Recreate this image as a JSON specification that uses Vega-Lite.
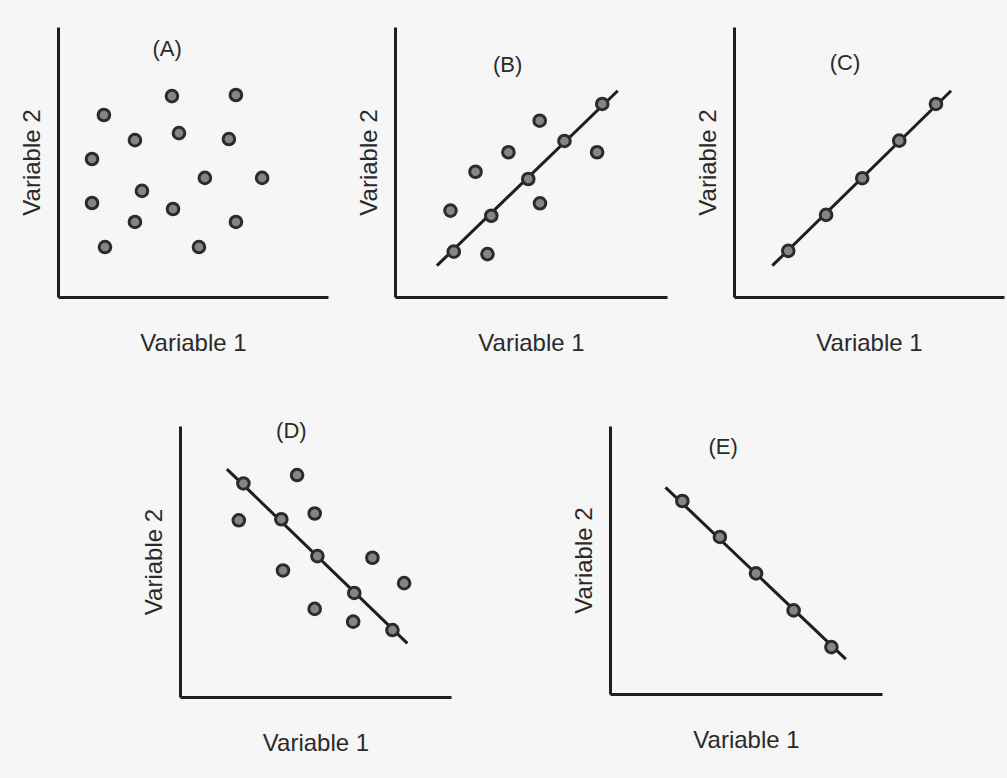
{
  "$schema": "https://vega.github.io/schema/vega-lite/v6.json",
  "background": "#f6f6f6",
  "padding": {"left": 20, "top": 27, "right": 6, "bottom": 26},
  "config": {
    "view": {"stroke": null},
    "font": "Liberation Sans",
    "axis": {
      "domainColor": "#1e1e1e",
      "domainWidth": 3,
      "ticks": false,
      "labels": false,
      "grid": false,
      "titleFont": "Liberation Sans",
      "titleFontSize": 24,
      "titleFontWeight": "normal",
      "titleColor": "#2a2a2a"
    },
    "axisX": {"titlePadding": 34},
    "axisY": {"titlePadding": 14}
  },
  "datasets": {
    "pts": [
      {"panel": "A", "kind": "dot", "x": 42.2, "y": 74.4},
      {"panel": "A", "kind": "dot", "x": 65.9, "y": 74.8},
      {"panel": "A", "kind": "dot", "x": 17.0, "y": 67.4},
      {"panel": "A", "kind": "dot", "x": 28.5, "y": 58.1},
      {"panel": "A", "kind": "dot", "x": 44.8, "y": 60.7},
      {"panel": "A", "kind": "dot", "x": 63.3, "y": 58.5},
      {"panel": "A", "kind": "dot", "x": 12.6, "y": 51.1},
      {"panel": "A", "kind": "dot", "x": 54.4, "y": 44.1},
      {"panel": "A", "kind": "dot", "x": 75.6, "y": 44.1},
      {"panel": "A", "kind": "dot", "x": 31.1, "y": 39.3},
      {"panel": "A", "kind": "dot", "x": 12.6, "y": 34.8},
      {"panel": "A", "kind": "dot", "x": 42.6, "y": 32.6},
      {"panel": "A", "kind": "dot", "x": 28.5, "y": 27.8},
      {"panel": "A", "kind": "dot", "x": 65.9, "y": 27.8},
      {"panel": "A", "kind": "dot", "x": 17.4, "y": 18.5},
      {"panel": "A", "kind": "dot", "x": 52.2, "y": 18.5},

      {"panel": "B", "kind": "dot", "x": 21.6, "y": 16.8},
      {"panel": "B", "kind": "dot", "x": 35.4, "y": 30.1},
      {"panel": "B", "kind": "dot", "x": 49.0, "y": 43.7},
      {"panel": "B", "kind": "dot", "x": 62.3, "y": 57.8},
      {"panel": "B", "kind": "dot", "x": 76.2, "y": 71.5},
      {"panel": "B", "kind": "dot", "x": 20.4, "y": 32.0},
      {"panel": "B", "kind": "dot", "x": 34.0, "y": 15.9},
      {"panel": "B", "kind": "dot", "x": 29.6, "y": 46.4},
      {"panel": "B", "kind": "dot", "x": 41.7, "y": 53.6},
      {"panel": "B", "kind": "dot", "x": 53.2, "y": 65.3},
      {"panel": "B", "kind": "dot", "x": 53.3, "y": 34.7},
      {"panel": "B", "kind": "dot", "x": 74.3, "y": 53.6},

      {"panel": "C", "kind": "dot", "x": 20.1, "y": 17.1},
      {"panel": "C", "kind": "dot", "x": 34.1, "y": 30.4},
      {"panel": "C", "kind": "dot", "x": 47.5, "y": 44.0},
      {"panel": "C", "kind": "dot", "x": 61.2, "y": 57.9},
      {"panel": "C", "kind": "dot", "x": 74.8, "y": 71.5},

      {"panel": "D", "kind": "dot", "x": 23.4, "y": 78.8},
      {"panel": "D", "kind": "dot", "x": 37.4, "y": 65.6},
      {"panel": "D", "kind": "dot", "x": 50.7, "y": 52.0},
      {"panel": "D", "kind": "dot", "x": 64.3, "y": 38.4},
      {"panel": "D", "kind": "dot", "x": 78.4, "y": 24.7},
      {"panel": "D", "kind": "dot", "x": 43.2, "y": 81.9},
      {"panel": "D", "kind": "dot", "x": 21.7, "y": 65.2},
      {"panel": "D", "kind": "dot", "x": 49.7, "y": 67.7},
      {"panel": "D", "kind": "dot", "x": 38.0, "y": 46.7},
      {"panel": "D", "kind": "dot", "x": 71.0, "y": 51.4},
      {"panel": "D", "kind": "dot", "x": 82.7, "y": 42.0},
      {"panel": "D", "kind": "dot", "x": 49.7, "y": 32.5},
      {"panel": "D", "kind": "dot", "x": 63.9, "y": 27.8},

      {"panel": "E", "kind": "dot", "x": 26.6, "y": 72.0},
      {"panel": "E", "kind": "dot", "x": 40.4, "y": 58.6},
      {"panel": "E", "kind": "dot", "x": 53.7, "y": 45.0},
      {"panel": "E", "kind": "dot", "x": 67.5, "y": 31.2},
      {"panel": "E", "kind": "dot", "x": 81.4, "y": 17.5}
    ],
    "lines": [
      {"panel": "B", "x": 15.4, "y": 11.6},
      {"panel": "B", "x": 81.9, "y": 76.4},
      {"panel": "C", "x": 14.2, "y": 11.6},
      {"panel": "C", "x": 80.4, "y": 76.4},
      {"panel": "D", "x": 17.3, "y": 84.1},
      {"panel": "D", "x": 83.9, "y": 19.8},
      {"panel": "E", "x": 20.4, "y": 77.1},
      {"panel": "E", "x": 86.7, "y": 13.0}
    ],
    "labels": [
      {"panel": "A", "text": "(A)", "x": 40.4, "y": 91.9},
      {"panel": "B", "text": "(B)", "x": 41.4, "y": 85.9},
      {"panel": "C", "text": "(C)", "x": 41.1, "y": 86.6},
      {"panel": "D", "text": "(D)", "x": 41.1, "y": 98.0},
      {"panel": "E", "text": "(E)", "x": 41.6, "y": 92.0}
    ]
  },
  "vconcat": [
    {
      "hconcat": [
        {
          "width": 270, "height": 270,
          "layer": [
            {"data": {"name": "pts"}, "transform": [{"filter": "datum.panel === 'A'"}],
             "mark": {"type": "circle", "size": 135, "fill": "#858585", "fillOpacity": 1, "stroke": "#2b2b2b", "strokeWidth": 3},
             "encoding": {
               "x": {"field": "x", "type": "quantitative", "scale": {"domain": [0, 100], "nice": false}, "axis": {"title": "Variable 1"}},
               "y": {"field": "y", "type": "quantitative", "scale": {"domain": [0, 100], "nice": false}, "axis": {"title": "Variable 2"}}
             }},
            {"data": {"name": "labels"}, "transform": [{"filter": "datum.panel === 'A'"}],
             "mark": {"type": "text", "fontSize": 22, "color": "#2a2a2a", "font": "Liberation Sans"},
             "encoding": {
               "x": {"field": "x", "type": "quantitative"},
               "y": {"field": "y", "type": "quantitative"},
               "text": {"field": "text"}
             }}
          ]
        },
        {
          "width": 272, "height": 270,
          "layer": [
            {"data": {"name": "lines"}, "transform": [{"filter": "datum.panel === 'B'"}],
             "mark": {"type": "line", "color": "#1e1e1e", "strokeWidth": 3},
             "encoding": {
               "x": {"field": "x", "type": "quantitative", "scale": {"domain": [0, 100], "nice": false}, "axis": {"title": "Variable 1"}},
               "y": {"field": "y", "type": "quantitative", "scale": {"domain": [0, 100], "nice": false}, "axis": {"title": "Variable 2"}}
             }},
            {"data": {"name": "pts"}, "transform": [{"filter": "datum.panel === 'B'"}],
             "mark": {"type": "circle", "size": 135, "fill": "#858585", "fillOpacity": 1, "stroke": "#2b2b2b", "strokeWidth": 3},
             "encoding": {
               "x": {"field": "x", "type": "quantitative"},
               "y": {"field": "y", "type": "quantitative"}
             }},
            {"data": {"name": "labels"}, "transform": [{"filter": "datum.panel === 'B'"}],
             "mark": {"type": "text", "fontSize": 22, "color": "#2a2a2a", "font": "Liberation Sans"},
             "encoding": {
               "x": {"field": "x", "type": "quantitative"},
               "y": {"field": "y", "type": "quantitative"},
               "text": {"field": "text"}
             }}
          ]
        },
        {
          "width": 270, "height": 270,
          "layer": [
            {"data": {"name": "lines"}, "transform": [{"filter": "datum.panel === 'C'"}],
             "mark": {"type": "line", "color": "#1e1e1e", "strokeWidth": 3},
             "encoding": {
               "x": {"field": "x", "type": "quantitative", "scale": {"domain": [0, 100], "nice": false}, "axis": {"title": "Variable 1"}},
               "y": {"field": "y", "type": "quantitative", "scale": {"domain": [0, 100], "nice": false}, "axis": {"title": "Variable 2"}}
             }},
            {"data": {"name": "pts"}, "transform": [{"filter": "datum.panel === 'C'"}],
             "mark": {"type": "circle", "size": 135, "fill": "#858585", "fillOpacity": 1, "stroke": "#2b2b2b", "strokeWidth": 3},
             "encoding": {
               "x": {"field": "x", "type": "quantitative"},
               "y": {"field": "y", "type": "quantitative"}
             }},
            {"data": {"name": "labels"}, "transform": [{"filter": "datum.panel === 'C'"}],
             "mark": {"type": "text", "fontSize": 22, "color": "#2a2a2a", "font": "Liberation Sans"},
             "encoding": {
               "x": {"field": "x", "type": "quantitative"},
               "y": {"field": "y", "type": "quantitative"},
               "text": {"field": "text"}
             }}
          ]
        }
      ],
      "spacing": 67,
      "bounds": "flush"
    },
    {
      "hconcat": [
        {
          "width": 271, "height": 271,
          "layer": [
            {"data": {"name": "lines"}, "transform": [{"filter": "datum.panel === 'D'"}],
             "mark": {"type": "line", "color": "#1e1e1e", "strokeWidth": 3},
             "encoding": {
               "x": {"field": "x", "type": "quantitative", "scale": {"domain": [0, 100], "nice": false}, "axis": {"title": "Variable 1"}},
               "y": {"field": "y", "type": "quantitative", "scale": {"domain": [0, 100], "nice": false}, "axis": {"title": "Variable 2"}}
             }},
            {"data": {"name": "pts"}, "transform": [{"filter": "datum.panel === 'D'"}],
             "mark": {"type": "circle", "size": 135, "fill": "#858585", "fillOpacity": 1, "stroke": "#2b2b2b", "strokeWidth": 3},
             "encoding": {
               "x": {"field": "x", "type": "quantitative"},
               "y": {"field": "y", "type": "quantitative"}
             }},
            {"data": {"name": "labels"}, "transform": [{"filter": "datum.panel === 'D'"}],
             "mark": {"type": "text", "fontSize": 22, "color": "#2a2a2a", "font": "Liberation Sans"},
             "encoding": {
               "x": {"field": "x", "type": "quantitative"},
               "y": {"field": "y", "type": "quantitative"},
               "text": {"field": "text"}
             }}
          ]
        },
        {
          "width": 272, "height": 268,
          "layer": [
            {"data": {"name": "lines"}, "transform": [{"filter": "datum.panel === 'E'"}],
             "mark": {"type": "line", "color": "#1e1e1e", "strokeWidth": 3},
             "encoding": {
               "x": {"field": "x", "type": "quantitative", "scale": {"domain": [0, 100], "nice": false}, "axis": {"title": "Variable 1"}},
               "y": {"field": "y", "type": "quantitative", "scale": {"domain": [0, 100], "nice": false}, "axis": {"title": "Variable 2"}}
             }},
            {"data": {"name": "pts"}, "transform": [{"filter": "datum.panel === 'E'"}],
             "mark": {"type": "circle", "size": 135, "fill": "#858585", "fillOpacity": 1, "stroke": "#2b2b2b", "strokeWidth": 3},
             "encoding": {
               "x": {"field": "x", "type": "quantitative"},
               "y": {"field": "y", "type": "quantitative"}
             }},
            {"data": {"name": "labels"}, "transform": [{"filter": "datum.panel === 'E'"}],
             "mark": {"type": "text", "fontSize": 22, "color": "#2a2a2a", "font": "Liberation Sans"},
             "encoding": {
               "x": {"field": "x", "type": "quantitative"},
               "y": {"field": "y", "type": "quantitative"},
               "text": {"field": "text"}
             }}
          ]
        }
      ],
      "spacing": 159,
      "bounds": "flush"
    }
  ],
  "spacing": 65,
  "center": true
}
